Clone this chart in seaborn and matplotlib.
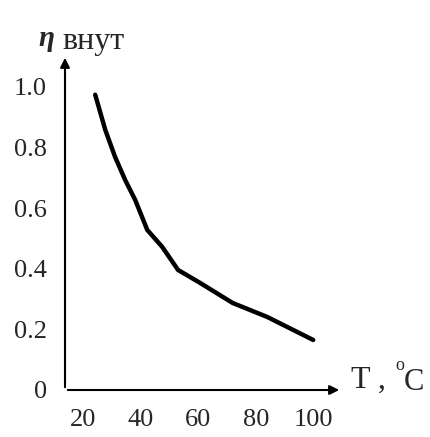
import matplotlib
matplotlib.use("Agg")
import matplotlib.pyplot as plt
import seaborn as sns
import pandas as pd

# values
temperature = [24.2, 27.7, 31.1, 34.6, 38.1, 42.3, 47.5, 53.0, 60.7, 72, 84, 100]
efficiency = [0.974, 0.858, 0.769, 0.693, 0.627, 0.528, 0.472, 0.396, 0.353, 0.287, 0.241, 0.165]
x_ticks = [20, 40, 60, 80, 100]
y_ticks = [0, 0.2, 0.4, 0.6, 0.8, 1.0]
y_labels = ["0", "0.2", "0.4", "0.6", "0.8", "1.0"]

sns.set_style("white")
plt.rcParams["font.family"] = ["Liberation Serif", "DejaVu Serif"]

df = pd.DataFrame({"T": temperature, "eta": efficiency})

fig = plt.figure(figsize=(4.3, 4.37), dpi=100)
ax = fig.add_axes([65 / 430, 47 / 437, 277 / 430, 335 / 437])

sns.lineplot(data=df, x="T", y="eta", color="black", linewidth=3.2, ax=ax)

ax.set_xlim(13.7, 110)
ax.set_ylim(0, 1.105)
ax.set_xticks(x_ticks)
ax.set_yticks(y_ticks)
ax.set_yticklabels(y_labels)
ax.tick_params(axis="both", length=0, labelsize=19)
ax.tick_params(axis="y", pad=13)
ax.tick_params(axis="x", pad=14)
ax.set_xlabel("")
ax.set_ylabel("")
for s in ax.spines.values():
    s.set_visible(False)

# axes with arrow heads
arrow = dict(arrowstyle="-|>", color="black", lw=1.5, mutation_scale=14)
ax.annotate("", xy=(1, 0), xytext=(0, 0), xycoords="axes fraction", arrowprops=arrow)
ax.annotate("", xy=(0, 1), xytext=(0, 0), xycoords="axes fraction", arrowprops=arrow)

# axis labels
fig.text(46 / 430, 1 - 38 / 437, "η", fontsize=21, ha="center", va="center",
         fontweight="bold", fontstyle="italic")
fig.text(62 / 430, 1 - 41 / 437, "внут", fontsize=23, ha="left", va="center")
fig.text(351 / 430, 1 - 380 / 437, "T ,", fontsize=23, ha="left", va="center")
fig.text(395 / 430, 1 - 366 / 437, "o", fontsize=13, ha="left", va="center")
fig.text(404 / 430, 1 - 382 / 437, "C", fontsize=22, ha="left", va="center")

fig.savefig("out.png", dpi=100)
